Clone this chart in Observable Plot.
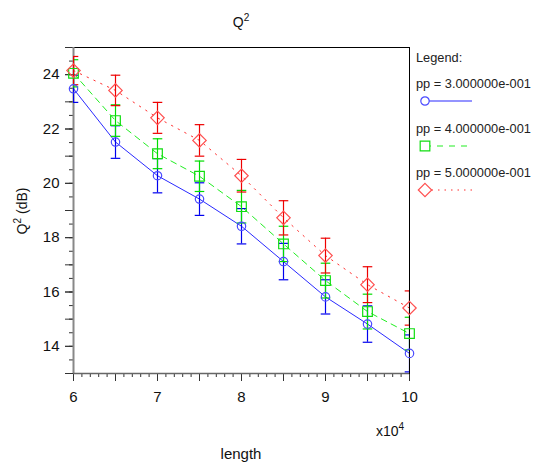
<!DOCTYPE html>
<html><head><meta charset="utf-8">
<script src="https://cdn.jsdelivr.net/npm/d3@7"></script>
<script src="https://cdn.jsdelivr.net/npm/@observablehq/plot@0.6"></script>
<style>body{margin:0;background:#fff}</style>
</head><body><div id="chart"></div>
<script>
const lengths = [60000, 65000, 70000, 75000, 80000, 85000, 90000, 95000, 100000];
const seriesNames = ["pp = 3.000000e-001", "pp = 4.000000e-001", "pp = 5.000000e-001"];
const q2_pp03 = [23.48, 21.52, 20.28, 19.42, 18.42, 17.12, 15.82, 14.82, 13.74];
const q2_pp04 = [24.05, 22.31, 21.09, 20.26, 19.14, 17.77, 16.42, 15.28, 14.47];
const q2_pp05 = [24.15, 23.42, 22.41, 21.58, 20.28, 18.73, 17.34, 16.27, 15.41];
const err_pp03 = [0.50, 0.60, 0.63, 0.60, 0.65, 0.67, 0.63, 0.67, 0.68];
const err_pp04 = [0.50, 0.58, 0.55, 0.56, 0.60, 0.65, 0.64, 0.64, 0.60];
const err_pp05 = [0.52, 0.56, 0.57, 0.58, 0.60, 0.63, 0.64, 0.66, 0.63];
const xTickLabels = [6, 7, 8, 9, 10];
const yTickLabels = [14, 16, 18, 20, 22, 24];

const styles = [
  {line: "#2a2aff", marker: "#4a4aff", err: "#0000ee", dash: null, symbol: "circle", r: 4.2},
  {line: "#22ee22", marker: "#11dd11", err: "#00dd00", dash: "6,5", symbol: "square", r: 3.2},
  {line: "#ff3030", marker: "#ff5050", err: "#ee0000", dash: "1.5,6", symbol: "diamond2", r: 3.6}
];
const values = [q2_pp03, q2_pp04, q2_pp05];
const errs = [err_pp03, err_pp04, err_pp05];
const data = [];
values.forEach((vals, s) => vals.forEach((v, i) => data.push({s, x: lengths[i], y: v, e: errs[s][i]})));

const capSymbol = {draw(ctx, size) { const w = Math.sqrt(size); ctx.moveTo(-w, 0); ctx.lineTo(w, 0); }};
const diamondSymbol = {draw(ctx, size) { const w = Math.sqrt(size) * 1.05; ctx.moveTo(0, -w); ctx.lineTo(w, 0); ctx.lineTo(0, w); ctx.lineTo(-w, 0); ctx.closePath(); }};
const squareSymbol = {draw(ctx, size) { const w = Math.sqrt(size) * 0.85; ctx.rect(-w, -w, 2 * w, 2 * w); }};
const symbols = {circle: "circle", square: squareSymbol, diamond2: diamondSymbol};

const tickStroke = "#333";
const marks = [
  Plot.axisX(d3.range(60000, 100001, 1000), {tickSize: 4, tickFormat: () => "", stroke: tickStroke, label: null}),
  Plot.axisX(d3.range(60000, 100001, 5000), {tickSize: 8, tickFormat: () => "", stroke: tickStroke, label: null}),
  Plot.axisX(xTickLabels.map(d => d * 1e4), {tickSize: 8, tickPadding: 10, tickFormat: d => d / 1e4, stroke: tickStroke, label: null, fontSize: 15, fill: "#111"}),
  Plot.axisY(d3.range(13, 25.01, 0.5), {tickSize: 4, tickFormat: () => "", stroke: tickStroke, label: null}),
  Plot.axisY(d3.range(13, 25.01, 1), {tickSize: 8, tickFormat: () => "", stroke: tickStroke, label: null}),
  Plot.axisY(yTickLabels, {tickSize: 8, tickPadding: 6, stroke: tickStroke, label: null, fontSize: 15, fill: "#111"}),
  Plot.frame({stroke: "black", strokeWidth: 1}),
  Plot.ruleX([60000], {stroke: "#888", strokeWidth: 2}),
  Plot.ruleY([13], {stroke: "#666", strokeWidth: 1.5})
];
styles.forEach((st, s) => {
  const d = data.filter(p => p.s === s);
  marks.push(Plot.line(d, {x: "x", y: "y", stroke: st.line, strokeWidth: 1, strokeDasharray: st.dash, clip: true}));
});
styles.forEach((st, s) => {
  const d = data.filter(p => p.s === s);
  marks.push(Plot.ruleX(d, {x: "x", y1: p => p.y - p.e, y2: p => p.y + p.e, stroke: st.err, strokeWidth: 1.2, clip: true}));
  marks.push(Plot.dot(d, {x: "x", y: p => p.y + p.e, symbol: capSymbol, r: 2.7, stroke: st.err, strokeWidth: 1.2, clip: true}));
  marks.push(Plot.dot(d, {x: "x", y: p => p.y - p.e, symbol: capSymbol, r: 2.7, stroke: st.err, strokeWidth: 1.2, clip: true}));
});
styles.forEach((st, s) => {
  const d = data.filter(p => p.s === s);
  marks.push(Plot.dot(d, {x: "x", y: "y", symbol: symbols[st.symbol], r: st.r, stroke: st.marker, strokeWidth: 1.2, fill: "none"}));
});

const chart = Plot.plot({
  width: 536, height: 467,
  marginLeft: 73, marginRight: 127, marginTop: 47, marginBottom: 94,
  style: {fontFamily: "'Liberation Sans', Arial, sans-serif", fontSize: "14px", background: "white", overflow: "visible"},
  x: {domain: [60000, 100000]},
  y: {domain: [13, 25]},
  marks
});
document.getElementById("chart").appendChild(chart);

const svg = d3.select(chart);
const font = "'Liberation Sans', Arial, sans-serif";
function sup(g, x, y, base, supText, rest, size, anchor) {
  const t = g.append("text").attr("x", x).attr("y", y).attr("font-family", font).attr("font-size", size).attr("fill", "#111").attr("text-anchor", anchor || "middle");
  t.append("tspan").text(base);
  t.append("tspan").attr("dy", -size * 0.42).attr("font-size", size * 0.72).text(supText);
  if (rest) t.append("tspan").attr("dy", size * 0.42).text(rest);
  return t;
}
sup(svg, 241, 27, "Q", "2", null, 14);
sup(svg.append("g").attr("transform", "translate(27,211) rotate(-90)"), 0, 0, "Q", "2", " (dB)", 14);
sup(svg, 376, 436, "x10", "4", null, 14, "start");
svg.append("text").attr("x", 241).attr("y", 459).attr("text-anchor", "middle").attr("font-family", font).attr("font-size", 15).attr("fill", "#111").text("length");

const lg = svg.append("g").attr("font-family", font).attr("font-size", 12.8).attr("fill", "#222").attr("text-anchor", "start");
lg.append("text").attr("x", 416).attr("y", 62).text("Legend:");
const rowY = [88, 133, 177];
seriesNames.forEach((name, s) => {
  const st = styles[s];
  lg.append("text").attr("x", 416).attr("y", rowY[s]).text(name);
  const sy = rowY[s] + 13;
  lg.append("line").attr("x1", 425).attr("x2", 472).attr("y1", sy).attr("y2", sy).attr("stroke", st.line).attr("stroke-width", 1.2).attr("stroke-dasharray", s === 1 ? "6,6" : s === 2 ? "1.5,5" : null);
  const symType = st.symbol === "circle" ? d3.symbolCircle : symbols[st.symbol];
  const sym = d3.symbol().type(symType).size(Math.PI * st.r * st.r);
  lg.append("path").attr("d", sym()).attr("transform", `translate(425,${sy})`).attr("fill", "white").attr("stroke", st.marker).attr("stroke-width", 1.2);
});
</script></body></html>
